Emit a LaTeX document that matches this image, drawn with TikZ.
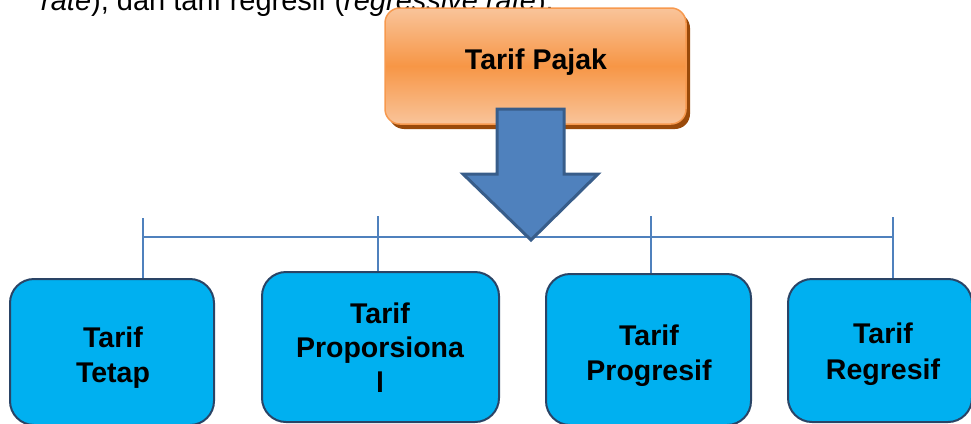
\documentclass[tikz,border=0pt]{standalone}
\usepackage{fontspec}
\setmainfont{Liberation Sans}
\usetikzlibrary{shadows}

\definecolor{leafcyan}{HTML}{00B0F0}
\definecolor{leafedge}{HTML}{2A4466}
\definecolor{barblue}{HTML}{4F81BD}
\definecolor{arrowedge}{HTML}{385D8A}
\definecolor{orangetop}{HTML}{F9C49A}
\definecolor{orangemid}{HTML}{F79646}
\definecolor{orangeedge}{HTML}{F7994E}
\definecolor{shadowbrown}{HTML}{9A4A0A}

\tikzset{
  rootbox/.style={rectangle, rounded corners=15pt, draw=orangeedge, line width=1.5pt,
    top color=orangetop, bottom color=orangetop, middle color=orangemid,
    inner sep=0pt, minimum width=301pt, minimum height=116pt,
    drop shadow={shadow xshift=4pt, shadow yshift=-5pt, fill=shadowbrown, opacity=1}},
  leafbox/.style={rectangle, rounded corners=24pt, draw=leafedge, line width=2pt,
    fill=leafcyan, inner sep=0pt},
  lbl/.style={anchor=base, inner sep=0pt, font=\fontsize{28.5}{34.5}\selectfont\bfseries},
  bodytext/.style={anchor=base west, inner sep=0pt, font=\fontsize{29}{34}\selectfont},
  tick/.style={draw=barblue, line width=1.5pt},
  bigarrow/.style={fill=barblue, draw=arrowedge, line width=3pt, line join=miter}
}

\begin{document}
\begin{tikzpicture}[x=1pt, y=-1pt]
  \useasboundingbox (0,0) rectangle (971,423);
  \clip (0,0) rectangle (971,423);

  % running text above the chart
  \node[bodytext] (para) at (41,10) {\textit{rate}), dan tarif regresif (\textit{regressive rate}).};

  % root box
  \node[rootbox] (pajak) at (535.5,66) {};
  \node[lbl] (pajaktxt) at (536,69) {Tarif Pajak};

  % leaf boxes
  \node[leafbox, minimum width=204pt, minimum height=146pt] (b1) at (112,352) {};
  \node[leafbox, minimum width=237pt, minimum height=150pt] (b2) at (380.5,347) {};
  \node[leafbox, minimum width=205pt, minimum height=151pt] (b3) at (648.5,349.5) {};
  \node[leafbox, minimum width=184pt, minimum height=143pt] (b4) at (880,350.5) {};

  % leaf labels
  \node[lbl] (b1a) at (113,347) {Tarif};
  \node[lbl] (b1b) at (113,382) {Tetap};
  \node[lbl] (b2a) at (380,323) {Tarif};
  \node[lbl] (b2b) at (380,357) {Proporsiona};
  \node[lbl] (b2c) at (380,392) {l};
  \node[lbl] (b3a) at (649,345) {Tarif};
  \node[lbl] (b3b) at (649,380) {Progresif};
  \node[lbl] (b4a) at (883,343) {Tarif};
  \node[lbl] (b4b) at (883,379) {Regresif};

  % distribution bar and ticks
  \coordinate (barL) at (143,237);
  \coordinate (barR) at (893,237);
  \coordinate (k1) at (143,218);
  \coordinate (k2) at (378,216);
  \coordinate (k3) at (651,216);
  \coordinate (k4) at (893,217);
  \draw[tick] (barL) -- (barR);
  \draw[tick] (k1) -- (k1 |- b1.north);
  \draw[tick] (k2) -- (k2 |- b2.north);
  \draw[tick] (k3) -- (k3 |- b3.north);
  \draw[tick] (k4) -- (k4 |- b4.north);

  % block arrow from the root box down to the bar
  \draw[bigarrow] (497,109) -- (564,109) -- (564,174) -- (598,174)
    -- (531,240) -- (463,174) -- (497,174) -- cycle;
\end{tikzpicture}
\end{document}
